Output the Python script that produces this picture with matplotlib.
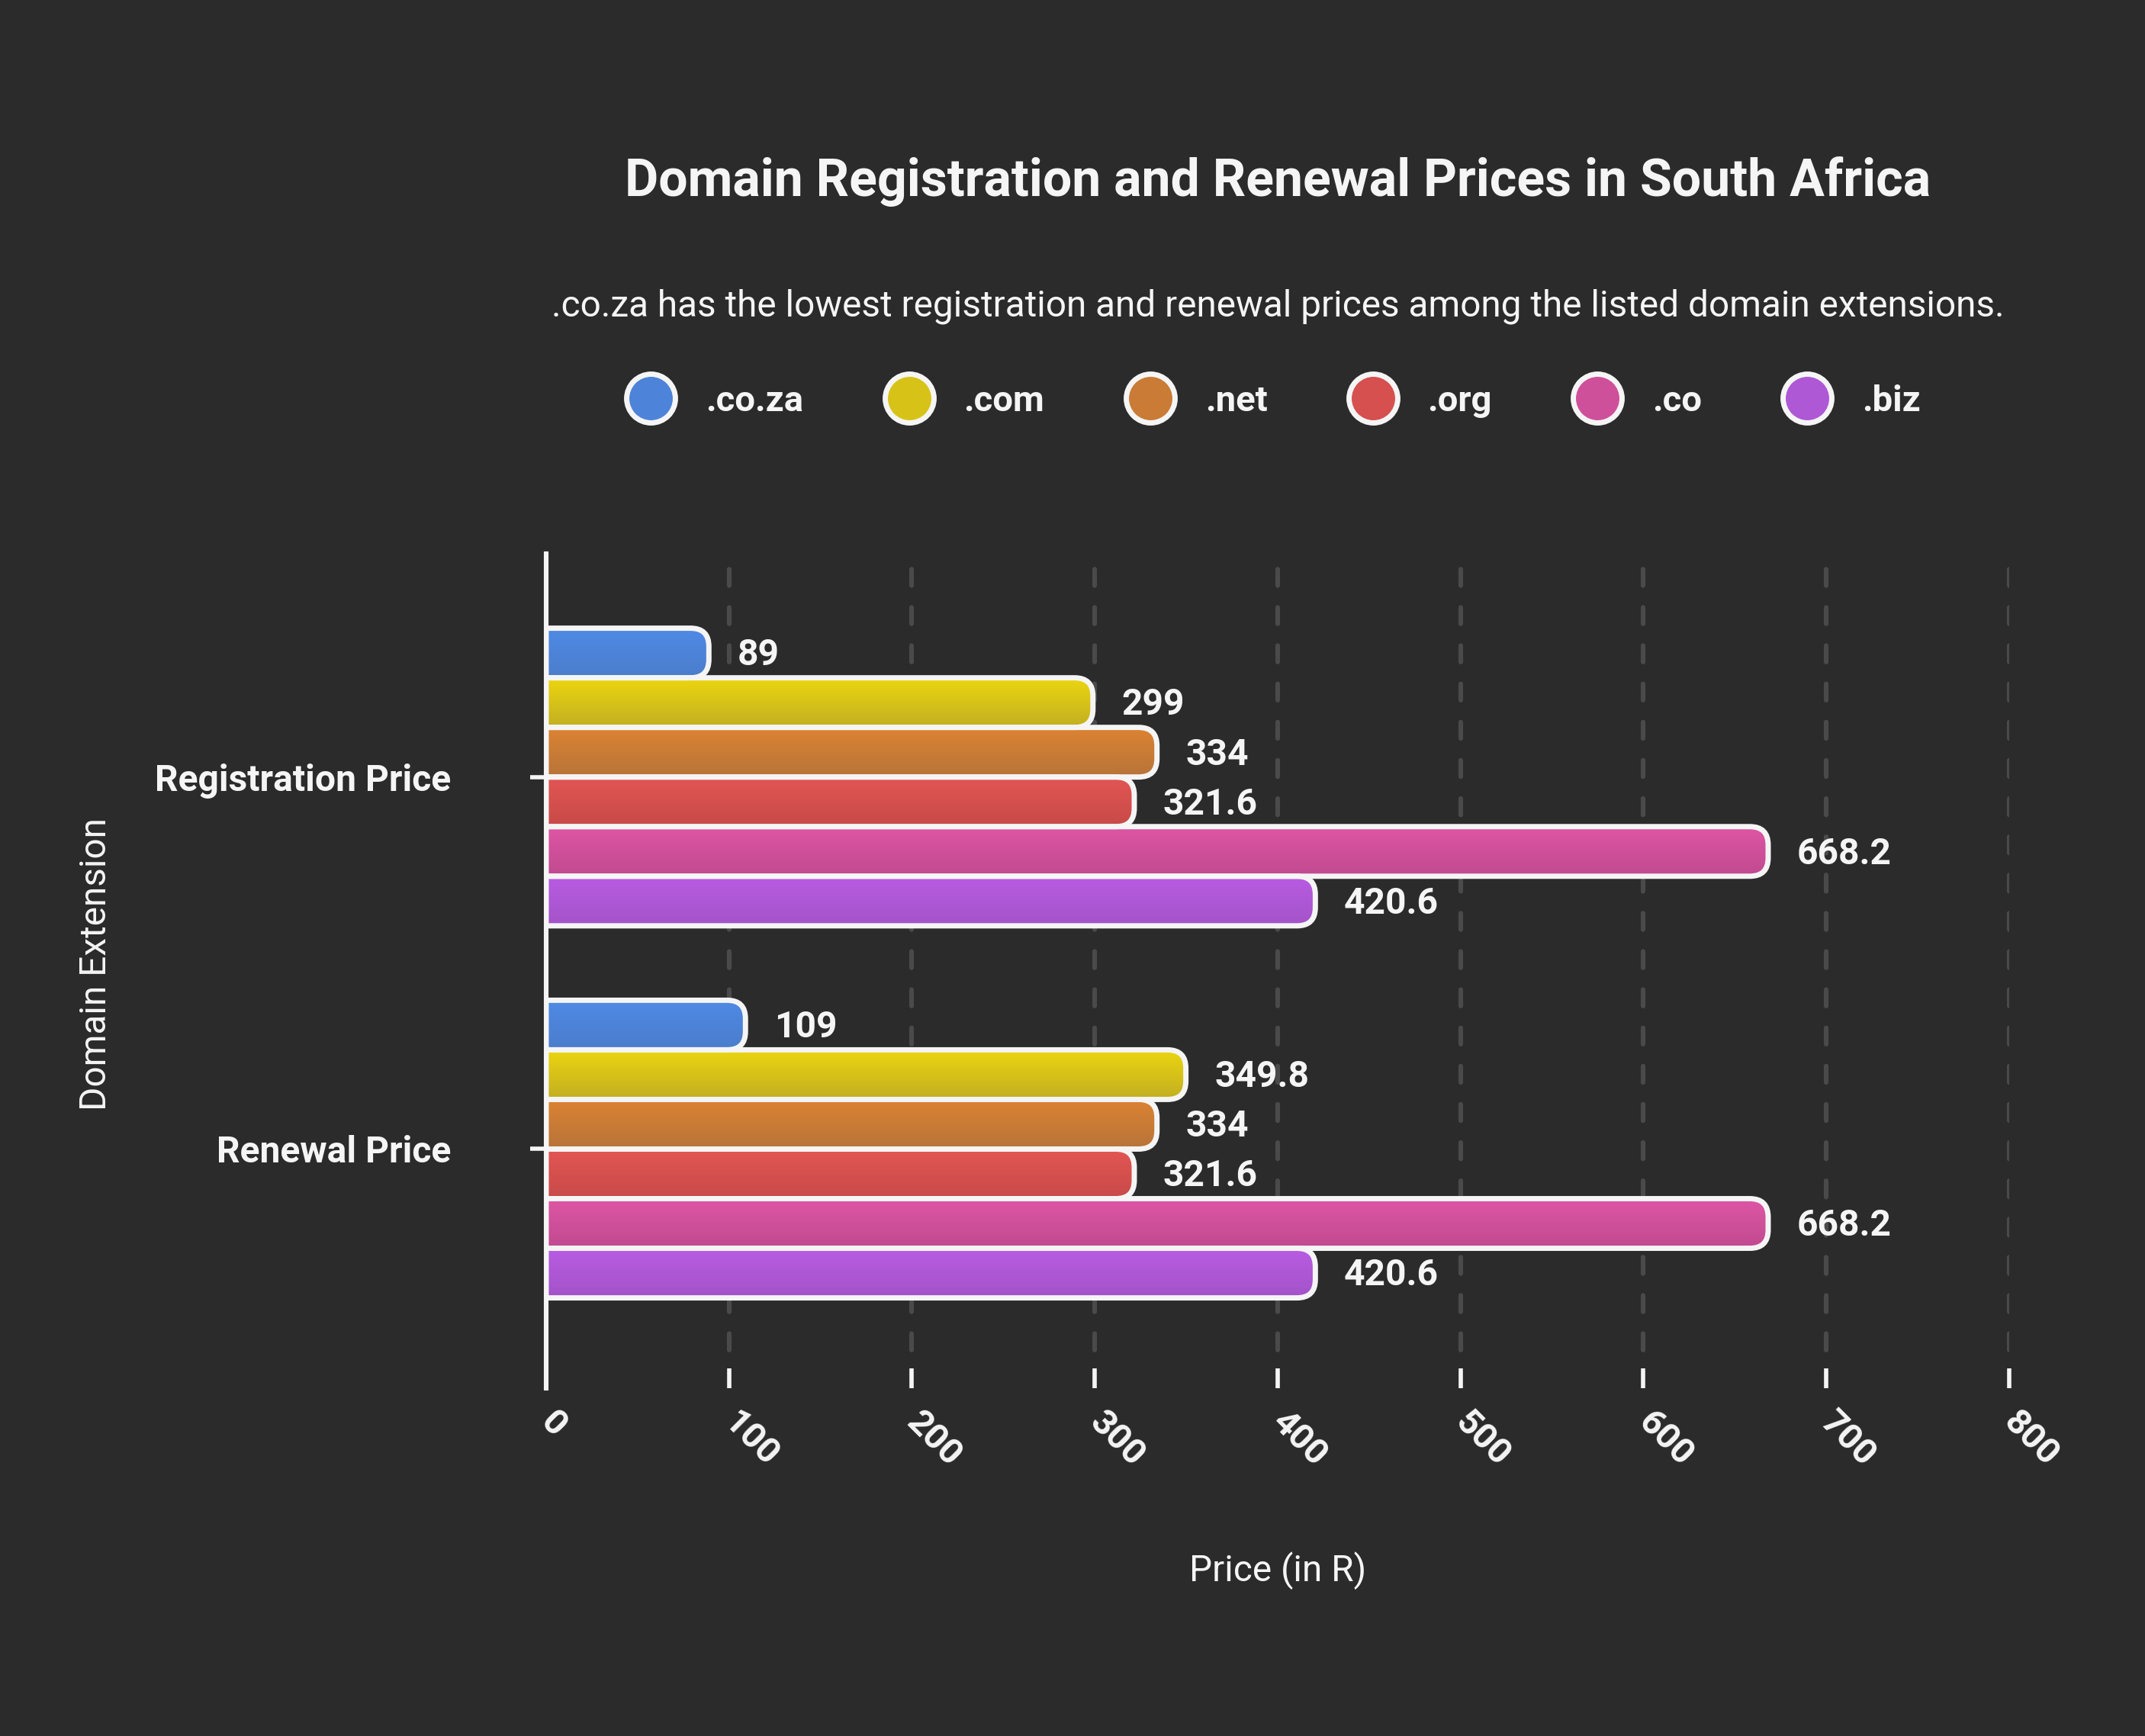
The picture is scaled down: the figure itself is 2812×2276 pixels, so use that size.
import numpy as np
import matplotlib
matplotlib.use("Agg")
import matplotlib.pyplot as plt
from matplotlib.path import Path
from matplotlib.patches import PathPatch
from matplotlib.lines import Line2D
from matplotlib.colors import to_rgb

plt.rcParams['font.family'] = ['Roboto', 'DejaVu Sans']

categories = ["Registration Price", "Renewal Price"]
extensions = [".co.za", ".com", ".net", ".org", ".co", ".biz"]
registration = [89, 299, 334, 321.6, 668.2, 420.6]
renewal = [109, 349.8, 334, 321.6, 668.2, 420.6]
x_ticks = [0, 100, 200, 300, 400, 500, 600, 700, 800]

top_colors = ["#4f8ae6", "#ecd60f", "#dc8332", "#e35654", "#de56a4", "#b95ce3"]
bottom_colors = ["#4b7dcb", "#c2af22", "#b8743a", "#c74a48", "#c04a90", "#a353c8"]

bg = "#2b2b2b"
fg = "#f5f5f5"

fig = plt.figure(figsize=(14.06, 11.38), dpi=200, facecolor=bg)
ax = fig.add_axes([0.2546, 0.2003, 0.6821, 0.4807])
ax.set_facecolor(bg)

n = len(extensions)
bar_h = 0.8 / n
y = np.arange(len(categories))
values = np.array([registration, renewal])  # shape (cat, ext)

ax.set_xlim(0, 800)
ax.set_ylim(1.643, -0.6)

# pixel size of one data unit, for round corners
p0 = ax.transData.transform((0, 0))
p1 = ax.transData.transform((100, 1))
px_x = abs(p1[0] - p0[0]) / 100
px_y = abs(p1[1] - p0[1])
r_px = 24


def right_rounded(x0, y0, w, h):
    rx = min(r_px / px_x, w)
    ry = min(r_px / px_y, h / 2)
    y1 = y0 + h
    verts = [(x0, y0), (x0 + w - rx, y0), (x0 + w, y0), (x0 + w, y0 + ry),
             (x0 + w, y1 - ry), (x0 + w, y1), (x0 + w - rx, y1),
             (x0, y1), (x0, y0)]
    codes = [Path.MOVETO, Path.LINETO, Path.CURVE3, Path.CURVE3,
             Path.LINETO, Path.CURVE3, Path.CURVE3,
             Path.LINETO, Path.CLOSEPOLY]
    return Path(verts, codes)


for i, ext in enumerate(extensions):
    offs = -0.4 + bar_h * (i + 0.5)
    bars = ax.barh(y + offs, values[:, i], height=bar_h, color="none",
                   edgecolor="none")
    grad = np.linspace(0, 1, 64)[:, None, None]
    c_top = np.array(to_rgb(top_colors[i]))
    c_bot = np.array(to_rgb(bottom_colors[i]))
    img = c_top * (1 - grad) + c_bot * grad
    for rect, v in zip(bars.patches, values[:, i]):
        x0, y0 = rect.get_x(), rect.get_y()
        w, h = rect.get_width(), rect.get_height()
        path = right_rounded(x0, y0, w, h)
        im = ax.imshow(img, extent=(x0, x0 + w, y0 + h, y0), origin="upper",
                       aspect="auto", zorder=2, interpolation="bilinear")
        clip = PathPatch(path, transform=ax.transData, fc="none", ec="none")
        ax.add_patch(clip)
        im.set_clip_path(clip)
        ax.add_patch(PathPatch(path, fc="none", ec=fg, lw=2.5, zorder=2.2,
                               joinstyle="round"))
        ax.annotate(f"{v:g}", xy=(v, y0 + h / 2), xytext=(13.5, -1.2),
                    textcoords="offset points", ha="left", va="center",
                    color=fg, fontsize=17.3, fontweight="bold")

ax.set_xlim(0, 800)
ax.set_ylim(1.643, -0.6)

# grid
ax.set_xticks(x_ticks)
ax.xaxis.grid(True, color="white", alpha=0.15, lw=2.2,
              linestyle=(0, (3.5, 4.7)), dash_capstyle="round", zorder=2.5)
ax.yaxis.grid(False)
for sp in ["top", "right", "bottom"]:
    ax.spines[sp].set_visible(False)
ax.spines["left"].set_color(fg)
ax.spines["left"].set_linewidth(2.2)
ax.spines["left"].set_zorder(3)

ax.tick_params(axis="x", direction="in", length=9.5, width=2, color=fg,
               pad=13.5, labelsize=17, labelcolor=fg)
ax.tick_params(axis="y", direction="out", length=7.5, width=2, color=fg,
               pad=37.5, labelsize=17.3, labelcolor=fg)
ax.set_xticklabels([str(t) for t in x_ticks], fontweight="bold")
for lab in ax.get_xticklabels():
    lab.set_rotation(-45)
    lab.set_rotation_mode("anchor")
    lab.set_ha("left")
    lab.set_va("center")
ax.set_yticks(y)
ax.set_yticklabels(categories, fontweight="bold")

cx = 0.5957
fig.text(cx, 0.8953, "Domain Registration and Renewal Prices in South Africa",
         ha="center", va="center", color=fg, fontsize=24.5, fontweight="bold")
fig.text(cx, 0.8235, ".co.za has the lowest registration and renewal prices "
         "among the listed domain extensions.",
         ha="center", va="center", color=fg, fontsize=17.2)
fig.text(cx, 0.0955, "Price (in R)", ha="center", va="center", color=fg,
         fontsize=17.2)
fig.text(0.0447, 0.4446, "Domain Extension", ha="center", va="center",
         rotation=90, color=fg, fontsize=17.2)

mid_colors = [tuple((np.array(to_rgb(a)) + np.array(to_rgb(b))) / 2)
              for a, b in zip(top_colors, bottom_colors)]
handles = [Line2D([], [], marker="o", linestyle="none", markersize=23,
                  markerfacecolor=c, markeredgecolor=fg, markeredgewidth=2.5)
           for c in mid_colors]
leg = fig.legend(handles, extensions, loc="center", bbox_to_anchor=(0.5955, 0.769),
                 ncol=6, frameon=False, handlelength=0.95, handletextpad=1.05,
                 columnspacing=2.45, prop={"size": 17, "weight": "bold"})
for t in leg.get_texts():
    t.set_color(fg)

fig.savefig("out.png", dpi=200, facecolor=bg)
